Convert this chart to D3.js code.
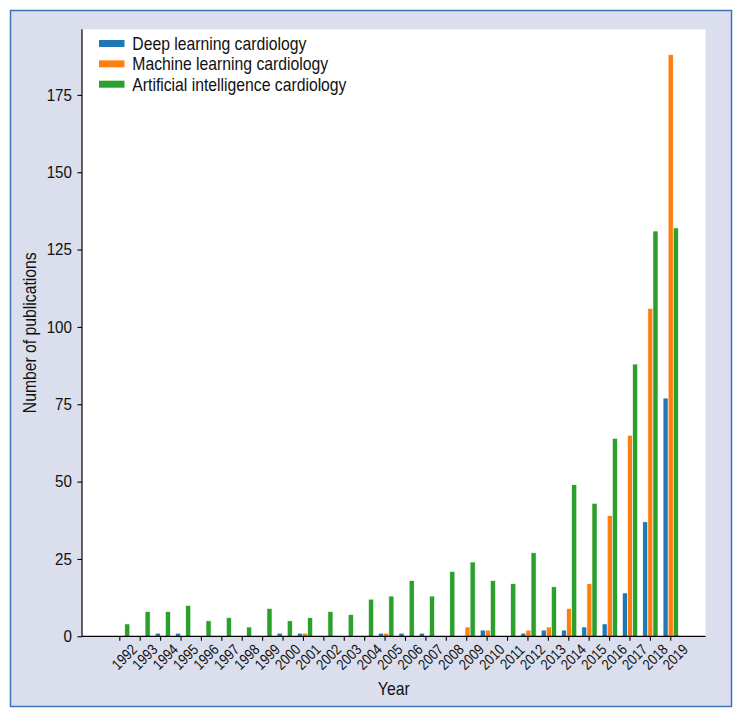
<!DOCTYPE html>
<html>
<head>
<meta charset="utf-8">
<script src="https://cdn.jsdelivr.net/npm/d3@7"></script>
<style>
  html, body { margin: 0; padding: 0; background: #ffffff; }
  svg { display: block; }
  text { font-family: "Liberation Sans", Arial, Helvetica, sans-serif; fill: #111; }
</style>
</head>
<body>
<svg id="chart" width="743" height="718"></svg>
<script>
const years = [1992,1993,1994,1995,1996,1997,1998,1999,2000,2001,2002,2003,2004,2005,
               2006,2007,2008,2009,2010,2011,2012,2013,2014,2015,2016,2017,2018,2019];
const deepLearning = [0,0,1,1,0,0,0,0,1,1,0,0,0,1,1,1,0,0,2,0,1,2,2,3,4,14,37,77];
const machineLearning = [0,0,0,0,0,0,0,0,0,1,0,0,0,1,0,0,0,3,2,0,2,3,9,17,39,65,106,188];
const artificialIntelligence = [4,8,8,10,5,6,3,9,5,6,8,7,12,13,18,13,21,24,18,17,27,16,49,43,64,88,131,132];
const seriesNames = ["Deep learning cardiology", "Machine learning cardiology", "Artificial intelligence cardiology"];
const seriesColors = ["#1f77b4", "#ff7f0e", "#2ca02c"];
const yTicks = [0,25,50,75,100,125,150,175];

const FONT = '"Liberation Sans", Arial, Helvetica, sans-serif';
const svg = d3.select("#chart");

// outer frame
svg.append("rect").attr("x", 10.5).attr("y", 10.5).attr("width", 721).attr("height", 696)
  .attr("fill", "#dadeed").attr("stroke", "#3b74b9").attr("stroke-width", 1.5);

const plot = {left: 82, right: 705.5, top: 29.3, bottom: 636.3};

svg.append("rect").attr("x", plot.left).attr("y", plot.top)
  .attr("width", plot.right - plot.left).attr("height", plot.bottom - plot.top)
  .attr("fill", "#ffffff");

const y = d3.scaleLinear().domain([0, 196.2]).range([plot.bottom, plot.top]);
const xBar = d3.scaleLinear().domain([years[0], years[years.length - 1]]).range([122.2, 670.7]);
const step = xBar(years[1]) - xBar(years[0]);
const bw = step * 0.25;
const xTick = d3.scalePoint().domain(years.map(String)).range([119.3, 670.3]);

const series = [deepLearning, machineLearning, artificialIntelligence];
series.forEach((vals, si) => {
  svg.append("g").selectAll("rect").data(years.map((yr, i) => ({yr, v: vals[i]})).filter(d => d.v > 0))
    .join("rect")
    .attr("x", d => xBar(d.yr) + (si - 1) * bw - bw / 2)
    .attr("y", d => y(d.v))
    .attr("width", bw)
    .attr("height", d => y(0) - y(d.v))
    .attr("fill", seriesColors[si])
    .attr("stroke", "#ffffff")
    .attr("stroke-width", 0.6);
});

// y axis
const yAxis = svg.append("g").attr("transform", `translate(${plot.left},0)`)
  .call(d3.axisLeft(y).tickValues(yTicks).tickSize(4.5).tickPadding(5));
yAxis.select(".domain").attr("d", `M0,${plot.top}V${plot.bottom}`).attr("stroke", "#000").attr("stroke-width", 1.2);
yAxis.selectAll(".tick line").attr("stroke", "#000").attr("stroke-width", 1.1);
yAxis.selectAll(".tick text").attr("font-size", 16.5).attr("fill", "#111")
  .attr("x", 0).attr("transform", "translate(-10,0) scale(0.92,1)")
  .style("font-family", FONT);

// x axis
const xAxis = svg.append("g").attr("transform", `translate(0,${plot.bottom})`)
  .call(d3.axisBottom(xTick).tickSize(4.5).tickFormat(d => d));
xAxis.select(".domain").attr("d", `M${plot.left},0H${plot.right}`).attr("stroke", "#000").attr("stroke-width", 1.2);
xAxis.selectAll(".tick line").attr("stroke", "#000").attr("stroke-width", 1.1);
xAxis.selectAll(".tick text")
  .attr("font-size", 15).attr("fill", "#111")
  .attr("text-anchor", "middle").attr("dy", null).attr("y", 0)
  .attr("dominant-baseline", "central")
  .attr("transform", "translate(4.5,20.5) rotate(-45) scale(0.85,1)")
  .style("font-family", FONT);

// axis titles
svg.append("text").attr("transform", `translate(${(plot.left + plot.right) / 2},695) scale(0.9,1)`)
  .attr("text-anchor", "middle").attr("font-size", 17.5).text("Year");
svg.append("text").attr("transform", `translate(36,${(plot.top + plot.bottom) / 2}) rotate(-90) scale(0.9,1)`)
  .attr("text-anchor", "middle").attr("font-size", 17.5).text("Number of publications");

// legend
const legend = svg.append("g");
seriesNames.forEach((name, i) => {
  const rowY = 50 + i * 20.35;
  legend.append("rect").attr("x", 99).attr("y", rowY - 10).attr("width", 25.5).attr("height", 7)
    .attr("fill", seriesColors[i]);
  legend.append("text").attr("transform", `translate(132.3,${rowY}) scale(0.9,1)`)
    .attr("font-size", 17.5).text(name);
});
</script>
</body>
</html>
